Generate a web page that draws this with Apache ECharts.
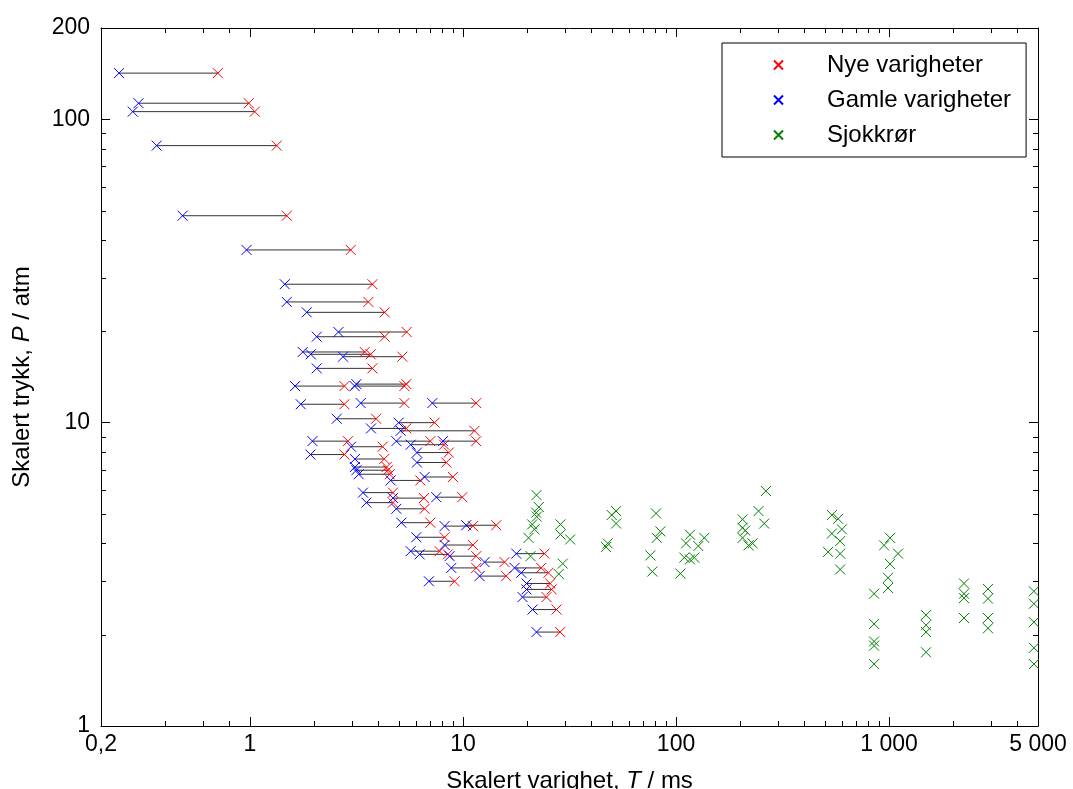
<!DOCTYPE html>
<html>
<head>
<meta charset="utf-8">
<script src="https://cdn.jsdelivr.net/npm/echarts@6/dist/echarts.min.js"></script>
<style>
  html, body { margin: 0; padding: 0; background: #fff; }
  #chart { width: 1073px; height: 789px; }
</style>
</head>
<body>
<div id="chart"></div>
<script>
// paired measurements: old (blue) and new (red) duration at the same scaled pressure
const blueT = [0.243, 0.300, 0.282, 0.365, 0.483, 0.964, 1.457, 1.489, 1.848, 2.603, 2.059, 1.770, 1.930, 2.735, 2.059, 1.629,
  3.160, 3.102, 1.732, 3.311, 7.180, 2.555, 4.990, 3.700, 5.100, 1.966, 4.867, 8.051, 2.983, 5.682, 1.924, 6.080,
  3.109, 6.080, 3.109, 3.160, 3.240, 6.607, 4.578, 3.394, 4.693, 3.522, 4.867, 7.495, 5.137, 8.199, 10.36, 6.040,
  5.682, 8.199, 6.260, 8.653, 12.63, 17.78, 8.815, 11.96, 17.46, 18.77, 6.920, 19.87, 19.87, 19.03, 21.20, 22.14];
const redT = [0.707, 0.988, 1.054, 1.337, 1.489, 2.973, 3.757, 3.597, 4.290, 5.441, 4.290, 3.457, 3.688, 5.194, 3.757, 2.777,
  5.423, 5.307, 2.777, 5.307, 11.54, 3.913, 7.360, 5.423, 11.33, 2.886, 7.026, 11.54, 4.199, 8.155, 2.777, 8.579,
  4.272, 8.351, 4.384, 4.446, 4.529, 8.969, 6.306, 4.693, 6.557, 4.693, 6.607, 9.925, 7.026, 11.13, 14.33, 8.199,
  7.768, 11.13, 8.495, 11.54, 15.67, 24.13, 11.54, 15.96, 23.29, 25.19, 9.134, 25.66, 26.08, 24.66, 27.47, 28.59];
const pairP = [142, 113, 106, 81.9, 48.1, 37.1, 28.6, 25.0, 23.1, 19.9, 19.2, 17.1, 16.8, 16.5, 15.1, 13.2,
  13.4, 13.2, 11.5, 11.6, 11.6, 10.3, 10.0, 9.57, 9.40, 8.69, 8.69, 8.69, 8.33, 8.46, 7.85, 7.97,
  7.59, 7.39, 7.14, 6.97, 6.76, 6.62, 6.45, 5.88, 5.64, 5.45, 5.20, 5.68, 4.68, 4.56, 4.59, 4.19,
  3.77, 3.95, 3.68, 3.63, 3.47, 3.70, 3.32, 3.12, 3.32, 3.20, 3.00, 2.95, 2.82, 2.66, 2.42, 2.04];

// shock tube points
const greenT = [22.14, 22.70, 22.07, 22.2, 21.13, 21.66, 20.31, 28.68, 28.68, 31.85, 20.75, 29.40, 28.16,
  49.90, 52.33, 52.33, 47.79, 46.97,
  80.60, 84.41, 81.2, 75.77, 77.43,
  116.3, 111.4, 135.7, 127.2, 109.4, 116.3, 121.8, 104.8,
  264.2, 243.9, 259.4, 205.3, 205.3, 211.3, 205.3, 218.9, 228.6,
  538.8, 576.8, 600.4, 538.8, 589.4, 517.6, 589.4, 589.4,
  1011, 947.5, 1102, 1011, 989, 989, 850.6, 850.6, 850.6, 850.6, 850.6,
  1491, 1491, 1491, 1491,
  2247, 2247, 2247, 2247,
  2912, 2912, 2912, 2912,
  4784, 4784, 4784, 4784, 4784];
const greenP = [5.77, 5.27, 5.05, 4.90, 4.62, 4.45, 4.17, 4.62, 4.28, 4.12, 3.63, 3.43, 3.17,
  4.96, 5.11, 4.65, 4.00, 3.89,
  5.02, 4.38, 4.17, 3.65, 3.23,
  4.27, 4.00, 4.17, 3.92, 3.59, 3.54, 3.59, 3.18,
  5.95, 5.11, 4.65, 4.80, 4.50, 4.41, 4.17, 3.94, 4.00,
  4.96, 4.82, 4.45, 4.31, 4.07, 3.75, 3.70, 3.28,
  4.17, 3.94, 3.70, 3.42, 3.08, 2.85, 2.73, 2.17, 1.90, 1.84, 1.60,
  2.32, 2.15, 2.04, 1.75,
  2.95, 2.73, 2.64, 2.27,
  2.83, 2.63, 2.27, 2.10,
  2.78, 2.53, 2.20, 1.81, 1.60];

const xMinorTicks = [0.4, 0.6, 0.8, 2, 3, 4, 5, 6, 7, 8, 9, 20, 30, 40, 50, 60, 70, 80, 90,
  200, 300, 400, 500, 600, 700, 800, 900, 2000, 3000, 4000];
const yMinorTicks = [2, 3, 4, 5, 6, 7, 8, 9, 20, 30, 40, 50, 60, 70, 80, 90];

const FONT = "'Liberation Sans', Arial, sans-serif";
const CROSS = 'path://M0,0L10,10M10,0L0,10';

function fmt(v) {
  v = +Number(v).toPrecision(6);
  return String(v).replace('.', ',').replace(/\B(?=(\d{3})+(?!\d))/g, ' ');
}

const chart = echarts.init(document.getElementById('chart'));

const logX = {
  type: 'log', logBase: 10, min: 0.2, max: 5000,
  axisLine: { lineStyle: { color: '#000', width: 1 } },
  axisTick: { inside: true, length: 9, lineStyle: { color: '#000' } },
  splitLine: { show: false }
};
const logY = {
  type: 'log', logBase: 10, min: 1, max: 200,
  axisLine: { lineStyle: { color: '#000', width: 1 } },
  axisTick: { inside: true, length: 9, lineStyle: { color: '#000' } },
  splitLine: { show: false }
};

const option = {
  animation: false,
  backgroundColor: '#fff',
  grid: { left: 101, right: 35, top: 28, bottom: 63, containLabel: false, outerBoundsMode: 'none' },
  xAxis: [
    Object.assign({}, logX, {
      position: 'bottom',
      axisLabel: { formatter: fmt, fontSize: 23, fontFamily: FONT, color: '#000', margin: 7 },
      name: 'Skalert varighet, {i|T} / ms',
      nameLocation: 'middle', nameGap: 43,
      nameTextStyle: { fontSize: 24, fontFamily: FONT, color: '#000',
        rich: { i: { fontStyle: 'italic', fontSize: 24, fontFamily: FONT } } }
    }),
    Object.assign({}, logX, { position: 'top', axisLabel: { show: false } })
  ],
  yAxis: [
    Object.assign({}, logY, {
      position: 'left',
      axisLabel: { formatter: fmt, fontSize: 23, fontFamily: FONT, color: '#000', margin: 11 },
      name: 'Skalert trykk, {i|P} / atm',
      nameLocation: 'middle', nameGap: 67,
      nameTextStyle: { fontSize: 24, fontFamily: FONT, color: '#000',
        rich: { i: { fontStyle: 'italic', fontSize: 24, fontFamily: FONT } } }
    }),
    Object.assign({}, logY, { position: 'right', axisLabel: { show: false } })
  ],
  legend: {
    data: ['Nye varigheter', 'Gamle varigheter', 'Sjokkrør'],
    orient: 'vertical',
    left: 722, top: 43,
    backgroundColor: '#fff',
    borderColor: '#000', borderWidth: 1,
    padding: [10, 15, 10, 51],
    itemWidth: 9, itemHeight: 9, itemGap: 11,
    textStyle: { fontSize: 24, fontFamily: FONT, color: '#000', lineHeight: 24, padding: [0, 0, 0, 39] }
  },
  series: [
    {
      // minor ticks on the log x axis (bottom and top)
      type: 'custom', silent: true, z: 5,
      data: xMinorTicks.map(v => [v, 10]),
      renderItem: (params, api) => {
        const p = api.coord([api.value(0), 10]);
        const cs = params.coordSys;
        const x = Math.round(p[0]) + 0.5;
        return {
          type: 'group', children: [
            { type: 'line', shape: { x1: x, y1: cs.y + cs.height, x2: x, y2: cs.y + cs.height - 5 }, style: { stroke: '#000', lineWidth: 1 } },
            { type: 'line', shape: { x1: x, y1: cs.y, x2: x, y2: cs.y + 5 }, style: { stroke: '#000', lineWidth: 1 } }
          ]
        };
      }
    },
    {
      // minor ticks on the log y axis (left and right)
      type: 'custom', silent: true, z: 5,
      data: yMinorTicks.map(v => [1, v]),
      renderItem: (params, api) => {
        const p = api.coord([1, api.value(1)]);
        const cs = params.coordSys;
        const y = Math.round(p[1]) + 0.5;
        return {
          type: 'group', children: [
            { type: 'line', shape: { x1: cs.x, y1: y, x2: cs.x + 5, y2: y }, style: { stroke: '#000', lineWidth: 1 } },
            { type: 'line', shape: { x1: cs.x + cs.width, y1: y, x2: cs.x + cs.width - 5, y2: y }, style: { stroke: '#000', lineWidth: 1 } }
          ]
        };
      }
    },
    {
      // connector between old and new duration
      type: 'custom', silent: true, z: 1,
      data: blueT.map((b, i) => [b, redT[i], pairP[i]]),
      encode: { x: [0, 1], y: 2 },
      renderItem: (params, api) => {
        const a = api.coord([api.value(0), api.value(2)]);
        const b = api.coord([api.value(1), api.value(2)]);
        return { type: 'line', shape: { x1: a[0], y1: a[1], x2: b[0], y2: b[1] }, style: { stroke: '#333', lineWidth: 1 } };
      }
    },
    {
      name: 'Nye varigheter', type: 'scatter', z: 2,
      symbol: CROSS, symbolSize: 10,
      itemStyle: { color: '#ff0000', borderColor: '#ff0000', borderWidth: 1, opacity: 1 },
      data: redT.map((t, i) => [t, pairP[i]])
    },
    {
      name: 'Gamle varigheter', type: 'scatter', z: 2,
      symbol: CROSS, symbolSize: 10,
      itemStyle: { color: '#0000ff', borderColor: '#0000ff', borderWidth: 1, opacity: 1 },
      data: blueT.map((t, i) => [t, pairP[i]])
    },
    {
      name: 'Sjokkrør', type: 'scatter', z: 2,
      symbol: CROSS, symbolSize: 10,
      itemStyle: { color: '#008000', borderColor: '#008000', borderWidth: 1, opacity: 1 },
      data: greenT.map((t, i) => [t, greenP[i]])
    }
  ]
};

chart.setOption(option);
</script>
</body>
</html>
